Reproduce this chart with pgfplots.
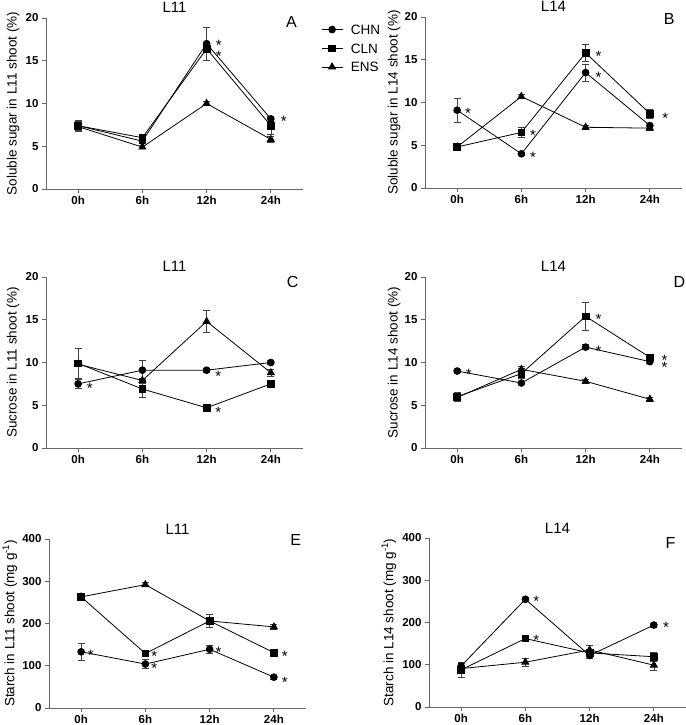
\documentclass[border=0pt]{standalone}
\usepackage{fontspec}
\setmainfont{Liberation Sans}
\usepackage{pgfplots}
\pgfplotsset{compat=1.18}
\pgfplotsset{
  panel/.style={
    scale only axis, width=257pt, height=171pt,
    xmin=-0.5, xmax=3.5,
    xtick={0,1,2,3}, xticklabels={0h,6h,12h,24h},
    axis x line*=bottom, axis y line*=left,
    axis line style={black!60, line width=0.8pt, -},
    tick style={black!60, line width=0.8pt},
    major tick length=4pt,
    tick align=outside,
    ticklabel style={font=\fontsize{11.5}{14}\selectfont\bfseries},
    /pgf/number format/assume math mode=true,
    ymin=0, clip=false,
    every axis title/.style={at={(axis description cs:0.5,1)}, anchor=base, yshift=5pt, inner sep=0pt, font=\fontsize{15}{17}\selectfont},
    error bars/error bar style={line width=0.7pt, black!75},
    error bars/error mark options={rotate=90, mark size=3.5pt, line width=0.7pt, black!75},
  },
  ylabx/.style={every axis y label/.style={at={(axis description cs:#1,0.5)}, rotate=90, anchor=center, font=\fontsize{13.5}{15}\selectfont}},
  chn/.style={black, solid, line width=0.8pt, mark=*, mark size=3.4pt, mark options={solid, fill=black, draw=black}, error bars/.cd, y dir=both, y explicit},
  cln/.style={black, solid, line width=0.8pt, mark=square*, mark size=3.3pt, mark options={solid, fill=black, draw=black}, error bars/.cd, y dir=both, y explicit},
  ens/.style={black, solid, line width=0.8pt, mark=triangle*, mark size=4pt, mark options={solid, fill=black, draw=black}, error bars/.cd, y dir=both, y explicit},
}
\tikzset{
  star/.style={anchor=base, inner sep=0pt, yshift=-8.5pt, font=\fontsize{15}{15}\selectfont},
  letter/.style={anchor=base, inner sep=0pt, font=\fontsize{16}{16}\selectfont},
}
\begin{document}
\begin{tikzpicture}
\useasboundingbox (0,0) rectangle (685pt,725pt);

% ---------- A ----------
\begin{axis}[panel, at={(46pt,536pt)}, anchor=south west,
  ymax=20, ytick={0,5,10,15,20}, title={L11}, ylabx=-0.128,
  ylabel={Soluble sugar in L11 shoot (\%)},
  legend style={at={(axis description cs:1.07,0.962)}, anchor=north west, draw=none, fill=none, inner sep=0pt, row sep=9pt,
    font=\fontsize{13.5}{15}\selectfont,
    nodes={inner sep=0pt, text height=9.7pt, text depth=0pt}},
  legend cell align=left,
  legend image code/.code={\draw[mark repeat=2,mark phase=2,#1] plot coordinates {(0pt,0pt) (10.5pt,0pt) (21pt,0pt)}; \path (29pt,0pt);},
]
\addplot+[chn] coordinates {(0,7.4) +- (0,0.6) (1,5.6) +- (0,0.3) (2,17.0) +- (0,1.9) (3,8.2) +- (0,0.3)};
\addlegendentry{CHN}
\addplot+[cln] coordinates {(0,7.4) +- (0,0.5) (1,6.0) +- (0,0.3) (2,16.4) +- (0,0.4) (3,7.4) +- (0,1.0)};
\addlegendentry{CLN}
\addplot+[ens] coordinates {(0,7.3) +- (0,0.3) (1,4.9) +- (0,0.2) (2,10.0) +- (0,0.2) (3,5.8) +- (0,0.3)};
\addlegendentry{ENS}
\node[star] at (axis cs:2.19,17.2) {*};
\node[star] at (axis cs:2.19,15.9) {*};
\node[star] at (axis cs:3.2,8.27) {*};
\node[letter] at (axis description cs:0.955,0.942) {A};
\end{axis}

% ---------- B ----------
\begin{axis}[panel, at={(425pt,537pt)}, anchor=south west,
  ymax=20, ytick={0,5,10,15,20}, title={L14}, ylabx=-0.12,
  ylabel={Soluble sugar in L14 shoot (\%)}]
\addplot+[chn] coordinates {(0,9.1) +- (0,1.4) (1,4.0) +- (0,0.2) (2,13.5) +- (0,1.0) (3,7.3) +- (0,0.3)};
\addplot+[cln] coordinates {(0,4.8) +- (0,0.2) (1,6.5) +- (0,0.6) (2,15.8) +- (0,1.0) (3,8.7) +- (0,0.5)};
\addplot+[ens] coordinates {(0,4.8) +- (0,0.2) (1,10.7) +- (0,0.2) (2,7.1) +- (0,0.2) (3,7.0) +- (0,0.3)};
\node[star] at (axis cs:0.17,9.13) {*};
\node[star] at (axis cs:1.18,6.52) {*};
\node[star] at (axis cs:1.18,4.0) {*};
\node[star] at (axis cs:2.2,15.77) {*};
\node[star] at (axis cs:2.2,13.3) {*};
\node[star] at (axis cs:3.24,8.54) {*};
\node[letter] at (axis description cs:0.95,0.959) {B};
\end{axis}

% ---------- C ----------
\begin{axis}[panel, at={(46pt,277pt)}, anchor=south west,
  ymax=20, ytick={0,5,10,15,20}, title={L11}, ylabx=-0.128,
  ylabel={Sucrose in L11 shoot (\%)}]
\addplot+[chn] coordinates {(0,7.5) +- (0,0.5) (1,9.1) +- (0,1.1) (2,9.1) +- (0,0.2) (3,10.0) +- (0,0.2)};
\addplot+[cln] coordinates {(0,9.9) +- (0,1.7) (1,6.9) +- (0,1.0) (2,4.7) +- (0,0.2) (3,7.5) +- (0,0.2)};
\addplot+[ens] coordinates {(0,9.8) +- (0,0.3) (1,7.9) +- (0,0.3) (2,14.8) +- (0,1.25) (3,8.8) +- (0,0.4)};
\node[star] at (axis cs:0.18,7.33) {*};
\node[star] at (axis cs:2.18,8.77) {*};
\node[star] at (axis cs:2.18,4.6) {*};
\node[letter] at (axis description cs:0.96,0.94) {C};
\end{axis}

% ---------- D ----------
\begin{axis}[panel, at={(425pt,277pt)}, anchor=south west,
  ymax=20, ytick={0,5,10,15,20}, title={L14}, ylabx=-0.12,
  ylabel={Sucrose in L14 shoot (\%)}]
\addplot+[chn] coordinates {(0,9.0) +- (0,0.2) (1,7.6) +- (0,0.2) (2,11.8) +- (0,0.3) (3,10.1) +- (0,0.2)};
\addplot+[cln] coordinates {(0,6.0) +- (0,0.5) (1,8.7) +- (0,0.6) (2,15.4) +- (0,1.65) (3,10.6) +- (0,0.3)};
\addplot+[ens] coordinates {(0,5.9) +- (0,0.3) (1,9.2) +- (0,0.4) (2,7.8) +- (0,0.2) (3,5.7) +- (0,0.2)};
\node[star] at (axis cs:0.18,8.98) {*};
\node[star] at (axis cs:2.2,15.4) {*};
\node[star] at (axis cs:2.2,11.7) {*};
\node[star] at (axis cs:3.23,10.7) {*};
\node[star] at (axis cs:3.23,9.77) {*};
\node[letter] at (axis description cs:0.99,0.94) {D};
\end{axis}

% ---------- E ----------
\begin{axis}[panel, at={(49pt,17pt)}, anchor=south west, height=169pt,
  ymax=400, ytick={0,100,200,300,400}, title={L11}, ylabx=-0.152,
  ylabel={Starch in L11 shoot (mg g\textsuperscript{-1})}]
\addplot+[chn] coordinates {(0,133) +- (0,20) (1,104) +- (0,10) (2,139) +- (0,10) (3,73) +- (0,5)};
\addplot+[cln] coordinates {(0,263) +- (0,5) (1,129) +- (0,5) (2,206) +- (0,16) (3,131) +- (0,5)};
\addplot+[ens] coordinates {(0,263) +- (0,5) (1,292) +- (0,5) (2,206) +- (0,5) (3,192) +- (0,5)};
\node[star] at (axis cs:0.15,133) {*};
\node[star] at (axis cs:1.14,129) {*};
\node[star] at (axis cs:1.14,101) {*};
\node[star] at (axis cs:2.14,139) {*};
\node[star] at (axis cs:3.17,129) {*};
\node[star] at (axis cs:3.17,69) {*};
\node[letter] at (axis description cs:0.96,0.964) {E};
\end{axis}

% ---------- F ----------
\begin{axis}[panel, at={(429pt,18pt)}, anchor=south west, height=169pt,
  ymax=400, ytick={0,100,200,300,400}, title={L14}, ylabx=-0.156,
  ylabel={Starch in L14 shoot (mg g\textsuperscript{-1})}]
\addplot+[chn] coordinates {(0,97) +- (0,6) (1,255) +- (0,5) (2,122) +- (0,8) (3,194) +- (0,5)};
\addplot+[cln] coordinates {(0,88) +- (0,17) (1,162) +- (0,5) (2,128) +- (0,8) (3,119) +- (0,10)};
\addplot+[ens] coordinates {(0,91) +- (0,5) (1,106) +- (0,10) (2,135) +- (0,11) (3,99) +- (0,12)};
\node[star] at (axis cs:1.17,257) {*};
\node[star] at (axis cs:1.17,166) {*};
\node[star] at (axis cs:3.19,196) {*};
\node[letter] at (axis description cs:0.94,0.935) {F};
\end{axis}
\end{tikzpicture}
\end{document}
